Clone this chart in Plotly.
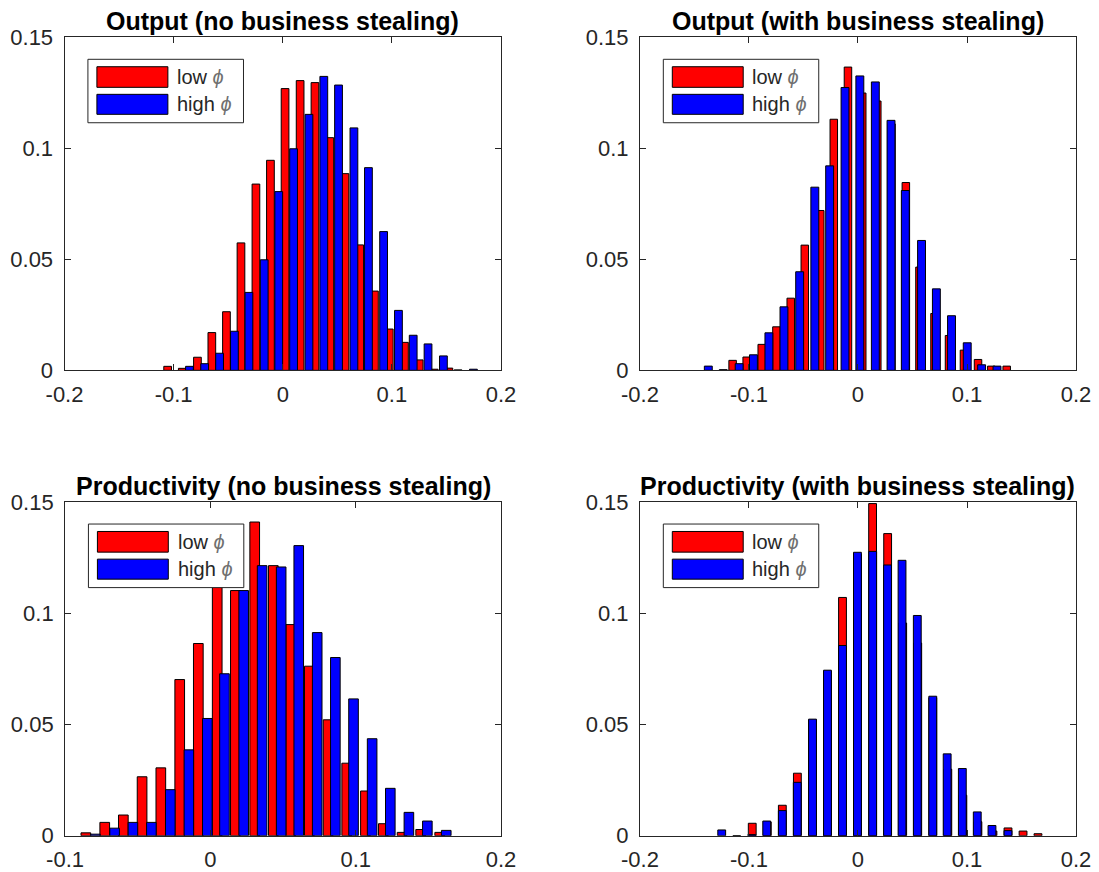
import numpy as np
import plotly.graph_objects as go

RED = "#ff0000"
BLUE = "#0000ff"
INK = "#262626"
FONT = "Liberation Sans, Arial, Helvetica, sans-serif"

# ---- Output (no business stealing) ----
out_nbs_low_x = [-0.1055, -0.0921, -0.0782, -0.0650, -0.0516, -0.0383, -0.0246, -0.0113, 0.0021, 0.0159,
                 0.0295, 0.0431, 0.0570, 0.0705, 0.0840, 0.0976, 0.1115, 0.1250, 0.1388, 0.1522]
out_nbs_low_y = [0.0018, 0.0009, 0.0059, 0.0170, 0.0264, 0.0574, 0.0839, 0.0946, 0.1269, 0.1305,
                 0.1296, 0.1048, 0.0886, 0.0565, 0.0357, 0.0186, 0.0126, 0.0047, 0.0005, 0.0010]
out_nbs_high_x = [-0.0855, -0.0716, -0.0579, -0.0443, -0.0310, -0.0170, -0.0037, 0.0099, 0.0240, 0.0376,
                  0.0511, 0.0652, 0.0785, 0.0924, 0.1060, 0.1195, 0.1331, 0.1472, 0.1606, 0.1747]
out_nbs_high_y = [0.0018, 0.0030, 0.0077, 0.0176, 0.0351, 0.0498, 0.0805, 0.0998, 0.1153, 0.1324,
                  0.1285, 0.1092, 0.0913, 0.0625, 0.0270, 0.0158, 0.0119, 0.0065, 0.0002, 0.0005]

# ---- Output (with business stealing) ----
out_bs_low_x = [-0.1150, -0.1021, -0.0883, -0.0748, -0.0617, -0.0488, -0.0346, -0.0222, -0.0092, 0.0039,
                0.0177, 0.0307, 0.0439, 0.0564, 0.0702, 0.0835, 0.0972, 0.1101, 0.1223, 0.1364]
out_bs_low_y = [0.0045, 0.0060, 0.0117, 0.0196, 0.0325, 0.0564, 0.0720, 0.1131, 0.1366, 0.1249,
                0.1213, 0.1110, 0.0846, 0.0465, 0.0256, 0.0157, 0.0091, 0.0049, 0.0019, 0.0019]
out_bs_high_x = [-0.1373, -0.1236, -0.1090, -0.0959, -0.0817, -0.0679, -0.0535, -0.0396, -0.0260, -0.0119,
                 0.0017, 0.0159, 0.0303, 0.0434, 0.0583, 0.0719, 0.0858, 0.1002, 0.1134, 0.1275]
out_bs_high_y = [0.0019, 0.0003, 0.0030, 0.0070, 0.0169, 0.0286, 0.0444, 0.0825, 0.0921, 0.1274,
                 0.1326, 0.1299, 0.1126, 0.0810, 0.0585, 0.0367, 0.0246, 0.0124, 0.0025, 0.0019]

# ---- Productivity (no business stealing) ----
prod_nbs_low_x = [-0.0857, -0.0727, -0.0599, -0.0470, -0.0341, -0.0211, -0.0083, 0.0047, 0.0172, 0.0305,
                  0.0433, 0.0553, 0.0681, 0.0810, 0.0938, 0.1067, 0.1190, 0.1319, 0.1447, 0.1578]
prod_nbs_low_y = [0.0013, 0.0060, 0.0093, 0.0265, 0.0305, 0.0702, 0.0864, 0.1130, 0.1102, 0.1410,
                  0.1214, 0.0949, 0.0762, 0.0521, 0.0326, 0.0201, 0.0054, 0.0015, 0.0028, 0.0015]
prod_nbs_high_x = [-0.0791, -0.0659, -0.0533, -0.0406, -0.0276, -0.0148, -0.0021, 0.0097, 0.0229, 0.0356,
                   0.0487, 0.0608, 0.0735, 0.0860, 0.0985, 0.1113, 0.1238, 0.1366, 0.1493, 0.1623]
prod_nbs_high_y = [0.0007, 0.0034, 0.0060, 0.0060, 0.0207, 0.0386, 0.0527, 0.0728, 0.1102, 0.1214,
                   0.1208, 0.1304, 0.0913, 0.0801, 0.0615, 0.0436, 0.0213, 0.0105, 0.0066, 0.0024]

# ---- Productivity (with business stealing) ----
prod_bs_low_x = [-0.0970, -0.0832, -0.0694, -0.0556, -0.0417, -0.0280, -0.0142, -0.0004, 0.0134, 0.0272,
                 0.0410, 0.0548, 0.0686, 0.0824, 0.0962, 0.1100, 0.1238, 0.1376, 0.1514, 0.1651]
prod_bs_low_y = [0.0056, 0.0062, 0.0137, 0.0281, 0.0520, 0.0740, 0.1071, 0.1265, 0.1493, 0.1358,
                 0.0956, 0.0866, 0.0620, 0.0299, 0.0182, 0.0063, 0.0021, 0.0035, 0.0021, 0.0009]
prod_bs_high_x = [-0.1250, -0.1112, -0.0974, -0.0837, -0.0694, -0.0557, -0.0417, -0.0280, -0.0142, -0.0005,
                  0.0135, 0.0271, 0.0404, 0.0544, 0.0686, 0.0818, 0.0957, 0.1094, 0.1229, 0.1376]
prod_bs_high_y = [0.0026, 0.0000, 0.0005, 0.0066, 0.0113, 0.0240, 0.0524, 0.0744, 0.0855, 0.1274,
                  0.1278, 0.1217, 0.1238, 0.0990, 0.0627, 0.0368, 0.0302, 0.0107, 0.0046, 0.0023]

y_ticks = [0, 0.05, 0.1, 0.15]
y_tick_labels = ["0", "0.05", "0.1", "0.15"]
x_ticks_wide = [-0.2, -0.1, 0, 0.1, 0.2]
x_tick_labels_wide = ["-0.2", "-0.1", "0", "0.1", "0.2"]
x_ticks_narrow = [-0.1, 0, 0.1, 0.2]
x_tick_labels_narrow = ["-0.1", "0", "0.1", "0.2"]

panels = [
    dict(title="Output (no business stealing)", low=(out_nbs_low_x, out_nbs_low_y),
         high=(out_nbs_high_x, out_nbs_high_y), xr=[-0.2, 0.2],
         xt=(x_ticks_wide, x_tick_labels_wide), dom=([0.0587, 0.4559], [0.5753, 0.9572])),
    dict(title="Output (with business stealing)", low=(out_bs_low_x, out_bs_low_y),
         high=(out_bs_high_x, out_bs_high_y), xr=[-0.2, 0.2],
         xt=(x_ticks_wide, x_tick_labels_wide), dom=([0.5823, 0.9791], [0.5753, 0.9572])),
    dict(title="Productivity (no business stealing)", low=(prod_nbs_low_x, prod_nbs_low_y),
         high=(prod_nbs_high_x, prod_nbs_high_y), xr=[-0.1, 0.2],
         xt=(x_ticks_narrow, x_tick_labels_narrow), dom=([0.0592, 0.4559], [0.0416, 0.4243])),
    dict(title="Productivity (with business stealing)", low=(prod_bs_low_x, prod_bs_low_y),
         high=(prod_bs_high_x, prod_bs_high_y), xr=[-0.2, 0.2],
         xt=(x_ticks_wide, x_tick_labels_wide), dom=([0.5823, 0.9791], [0.0416, 0.4243])),
]

fig = go.Figure()
shapes = []
annotations = []


def bar_width(centers):
    # bars occupy roughly half of each histogram bin
    return float(np.mean(np.diff(centers))) * 0.52


for i, p in enumerate(panels, start=1):
    sfx = "" if i == 1 else str(i)
    xa, ya = "x" + sfx, "y" + sfx
    for (xs, ys), color, name in ((p["low"], RED, "low"), (p["high"], BLUE, "high")):
        fig.add_trace(go.Bar(
            x=xs, y=ys, width=bar_width(xs), name=name, xaxis=xa, yaxis=ya,
            marker=dict(color=color, line=dict(color="black", width=1)),
            showlegend=False,
        ))

    axis_style = dict(showline=True, linecolor=INK, linewidth=1, mirror="ticks",
                      ticks="inside", ticklen=6, tickcolor=INK, showgrid=False, zeroline=False,
                      automargin=False, tickfont=dict(family=FONT, size=22, color=INK))
    fig.layout["xaxis" + sfx] = dict(axis_style, domain=p["dom"][0], range=p["xr"], anchor=ya,
                                     tickvals=p["xt"][0], ticktext=p["xt"][1], ticklabelstandoff=4)
    fig.layout["yaxis" + sfx] = dict(axis_style, domain=p["dom"][1], range=[0, 0.15], anchor=xa,
                                     tickvals=y_ticks, ticktext=y_tick_labels, ticklabelstandoff=6)

    dx, dy = xa + " domain", ya + " domain"
    annotations.append(dict(text="<b>" + p["title"] + "</b>", xref=dx, yref=dy, x=0.5, y=1.0,
                            xanchor="center", yanchor="bottom", yshift=0, showarrow=False,
                            font=dict(family=FONT, size=25, color="black")))
    # legend box with wide swatches
    shapes.append(dict(type="rect", xref=dx, yref=dy, x0=0.0536, x1=0.41, y0=0.7435, y1=0.934,
                       fillcolor="white", line=dict(color=INK, width=1), layer="above"))
    shapes.append(dict(type="rect", xref=dx, yref=dy, x0=0.0742, x1=0.2368, y0=0.8498, y1=0.9117,
                       fillcolor=RED, line=dict(color="black", width=1), layer="above"))
    shapes.append(dict(type="rect", xref=dx, yref=dy, x0=0.0742, x1=0.2368, y0=0.7688, y1=0.8288,
                       fillcolor=BLUE, line=dict(color="black", width=1), layer="above"))
    for label, yy in (("low", 0.8808), ("high", 0.7996)):
        annotations.append(dict(text=label + " <i><span style='color:#707070'>ϕ</span></i>",
                                xref=dx, yref=dy, x=0.2535, y=yy, xanchor="left", yanchor="middle",
                                showarrow=False, font=dict(family=FONT, size=20, color=INK)))

fig.update_layout(
    width=1099, height=872, margin=dict(l=0, r=0, t=0, b=0),
    paper_bgcolor="white", plot_bgcolor="white",
    barmode="overlay", shapes=shapes, annotations=annotations,
    font=dict(family=FONT, color=INK),
)

fig.write_html("out.html")
